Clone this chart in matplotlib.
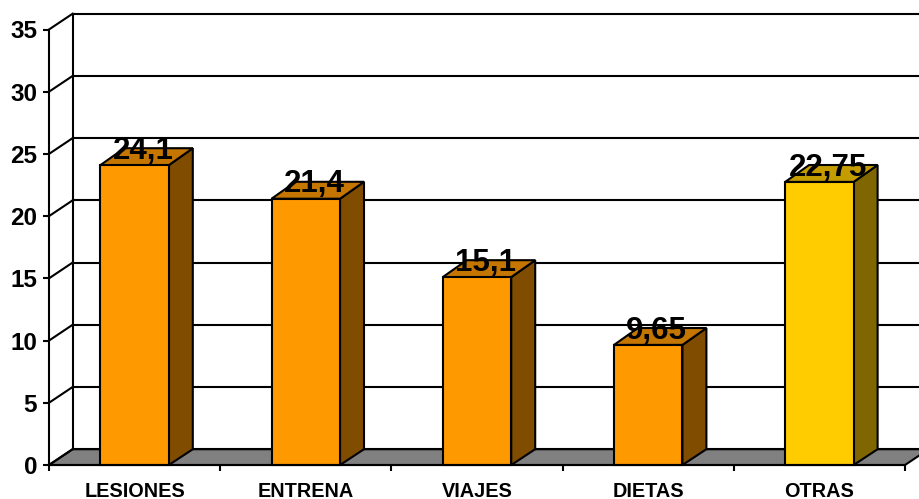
import matplotlib
matplotlib.use("Agg")
import matplotlib.pyplot as plt
from matplotlib.patches import Polygon

categorias = ["LESIONES", "ENTRENA", "VIAJES", "DIETAS", "OTRAS"]
valores = [24.1, 21.4, 15.1, 9.65, 22.75]
etiquetas = ["24,1", "21,4", "15,1", "9,65", "22,75"]
marcas_y = [0, 5, 10, 15, 20, 25, 30, 35]
frente = ["#FF9900", "#FF9900", "#FF9900", "#FF9900", "#FFCC00"]
arriba = ["#C47600", "#C47600", "#C47600", "#C47600", "#C49C00"]
lado = ["#804C00", "#804C00", "#804C00", "#804C00", "#806600"]

plt.rcParams["font.family"] = ["Liberation Sans", "DejaVu Sans"]
plt.rcParams["font.weight"] = "bold"

W, H = 919, 499
fig = plt.figure(figsize=(W / 100, H / 100), dpi=100, facecolor="white")
ax = fig.add_axes([49 / W, (H - 465) / H, 856 / W, 435.5 / H])
ax.set_xlim(-0.5, 4.5)
ax.set_ylim(0, 35)
ax.patch.set_visible(False)

lw = 1.5
dx = 0.138    # profundidad de la pared del fondo
dy = 1.27
dxb = 0.14    # profundidad de las barras
dyb = 1.36
ancho = 0.4

# suelo gris
ax.add_patch(Polygon([(-0.5, 0), (4.5, 0), (4.5 + dx, dy), (-0.5 + dx, dy)],
                     facecolor="#808080", edgecolor="black", lw=lw,
                     clip_on=False, zorder=1))

# rejilla del fondo y diagonales
for v in marcas_y:
    ax.plot([-0.5, -0.5 + dx], [v, v + dy], color="black", lw=lw, clip_on=False, zorder=1.5)
    ax.plot([-0.5 + dx, 4.5 + dx], [v + dy, v + dy], color="black", lw=lw, clip_on=False, zorder=1.5)
ax.plot([-0.5 + dx, -0.5 + dx], [dy, 35 + dy], color="black", lw=lw, clip_on=False, zorder=1.5)

# barras
ax.bar(range(len(valores)), valores, width=ancho, color=frente, edgecolor="black",
       linewidth=lw, zorder=3, clip_on=False)
for i, v in enumerate(valores):
    x0 = i - ancho / 2
    x1 = i + ancho / 2
    ax.add_patch(Polygon([(x1, 0), (x1 + dxb, dy), (x1 + dxb, v + dyb), (x1, v)],
                         facecolor=lado[i], edgecolor="black", lw=lw, clip_on=False, zorder=2.5))
    ax.add_patch(Polygon([(x0, v), (x1, v), (x1 + dxb, v + dyb), (x0 + dxb, v + dyb)],
                         facecolor=arriba[i], edgecolor="black", lw=lw, clip_on=False, zorder=2.5))
    ax.annotate(etiquetas[i], (i, v), xytext=(6.2, 4.5), textcoords="offset points",
                ha="center", va="baseline", fontsize=22.5, fontweight="bold", zorder=5,
                annotation_clip=False)

# ejes
for s in ["top", "right"]:
    ax.spines[s].set_visible(False)
ax.spines["left"].set_linewidth(lw)
ax.spines["bottom"].set_linewidth(lw)
ax.spines["left"].set_zorder(4)
ax.spines["bottom"].set_zorder(4)
ax.set_yticks(marcas_y)
ax.tick_params(axis="y", length=4, width=lw, labelsize=17.5, pad=4.5)
ax.set_xticks(range(len(categorias)))
ax.set_xticklabels(categorias, fontsize=14.3, fontweight="bold")
ax.tick_params(axis="x", which="major", length=0, pad=12)
ax.set_xticks([-0.5, 0.5, 1.5, 2.5, 3.5, 4.5], minor=True)
ax.tick_params(axis="x", which="minor", length=4, width=lw)

fig.savefig("out.png", dpi=100)
